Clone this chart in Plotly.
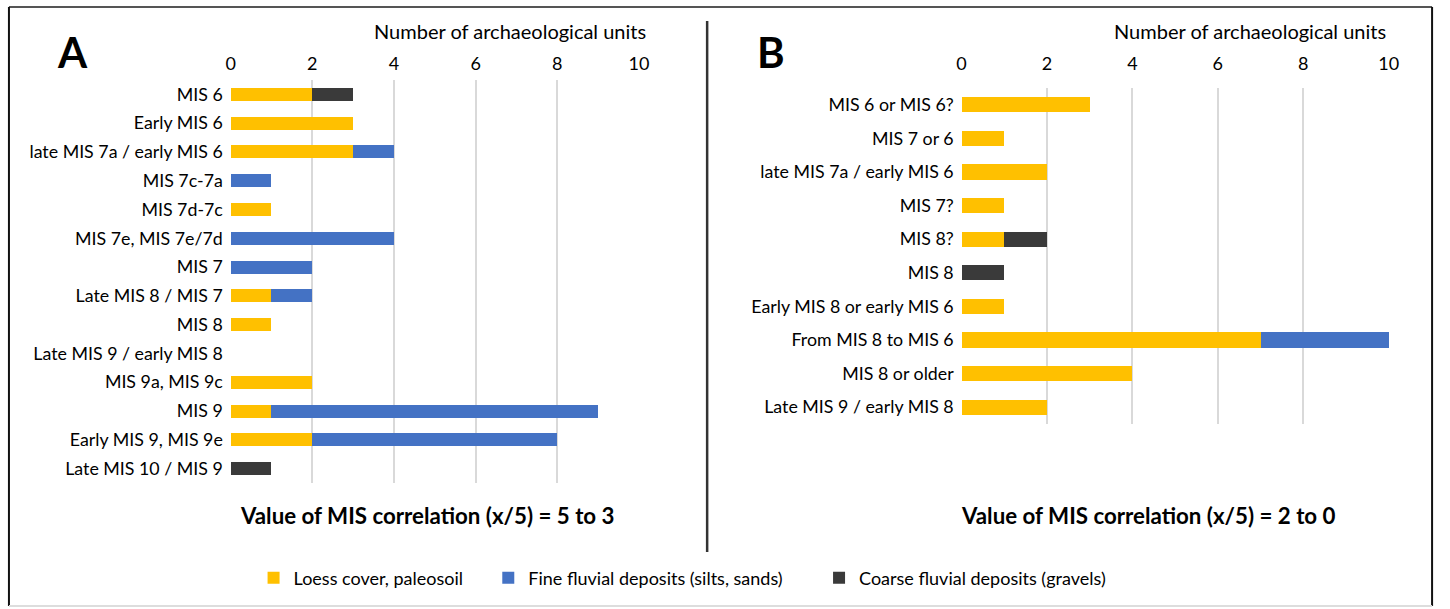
import plotly.graph_objects as go

# ---------------- data ----------------
cats_a = ["MIS 6", "Early MIS 6", "late MIS 7a / early MIS 6", "MIS 7c-7a", "MIS 7d-7c",
          "MIS 7e, MIS 7e/7d", "MIS 7", "Late MIS 8 / MIS 7", "MIS 8",
          "Late MIS 9 / early MIS 8", "MIS 9a, MIS 9c", "MIS 9", "Early MIS 9, MIS 9e",
          "Late MIS 10 / MIS 9"]
loess_a = [2, 3, 3, 0, 1, 0, 0, 1, 1, 0, 2, 1, 2, 0]
fine_a = [0, 0, 1, 1, 0, 4, 2, 1, 0, 0, 0, 8, 6, 0]
coarse_a = [1, 0, 0, 0, 0, 0, 0, 0, 0, 0, 0, 0, 0, 1]

cats_b = ["MIS 6 or MIS 6?", "MIS 7 or 6", "late MIS 7a / early MIS 6", "MIS 7?", "MIS 8?",
          "MIS 8", "Early MIS 8 or early MIS 6", "From MIS 8 to MIS 6", "MIS 8 or older",
          "Late MIS 9 / early MIS 8"]
loess_b = [3, 1, 2, 1, 1, 0, 1, 7, 4, 2]
fine_b = [0, 0, 0, 0, 0, 0, 0, 3, 0, 0]
coarse_b = [0, 0, 0, 0, 1, 1, 0, 0, 0, 0]

series_names = ["Loess cover, paleosoil", "Fine fluvial deposits (silts, sands)",
                "Coarse fluvial deposits (gravels)"]
colors = ["#FFC000", "#4472C4", "#3A3A3A"]
x_ticks = [0, 2, 4, 6, 8, 10]

FONT = "Lato"
W, H = 1450, 609

fig = go.Figure()
legends = ["legend", "legend2", "legend3"]
for i, (name, col) in enumerate(zip(series_names, colors)):
    va = [loess_a, fine_a, coarse_a][i]
    vb = [loess_b, fine_b, coarse_b][i]
    fig.add_trace(go.Bar(y=cats_a, x=va, orientation="h", name=name, marker_color=col,
                         marker_line_width=0, width=0.45, xaxis="x", yaxis="y",
                         legend=legends[i], showlegend=True))
    fig.add_trace(go.Bar(y=cats_b, x=vb, orientation="h", name=name, marker_color=col,
                         marker_line_width=0, width=0.45, xaxis="x2", yaxis="y2",
                         showlegend=False))

def px_x(p):
    return p / W

def px_y(p):
    return 1 - p / H

xcommon = dict(range=[-0.02, 10.02], side="top", tickvals=x_ticks, showgrid=True,
               gridcolor="#D9D9D9", gridwidth=1.5, zeroline=False, showline=False,
               ticks="", tickfont=dict(size=18, color="#000", family=FONT), fixedrange=True)
ycommon = dict(autorange="reversed", showgrid=False, zeroline=False, showline=False, ticks="",
               tickfont=dict(size=17.8, color="#000", family=FONT), ticklabelstandoff=6,
               fixedrange=True)

fig.update_layout(
    width=W, height=H, margin=dict(l=0, r=0, t=0, b=0),
    paper_bgcolor="white", plot_bgcolor="white", barmode="stack",
    font=dict(family=FONT, color="#000"),
    xaxis=dict(domain=[px_x(228), px_x(642)], anchor="y", ticklabelstandoff=5, **xcommon),
    yaxis=dict(domain=[px_y(483), px_y(80)], anchor="x", **ycommon),
    xaxis2=dict(domain=[px_x(966), px_x(1399)], anchor="y2", ticklabelstandoff=13, **xcommon),
    yaxis2=dict(domain=[px_y(424), px_y(88)], anchor="x2", **ycommon),
)

leg_common = dict(orientation="h", yanchor="middle", y=px_y(578), xanchor="left",
                  bgcolor="rgba(0,0,0,0)", font=dict(size=18, family=FONT, color="#000"),
                  itemwidth=30)
fig.update_layout(
    legend=dict(x=px_x(252), **leg_common),
    legend2=dict(x=px_x(489), **leg_common),
    legend3=dict(x=px_x(823), **leg_common),
)

ann = []
ann.append(dict(text="Number of archaeological units", x=px_x(511), y=px_y(31),
                font=dict(size=20)))
ann.append(dict(text="Number of archaeological units", x=px_x(1258), y=px_y(31),
                font=dict(size=20)))
ann.append(dict(text="<b>A</b>", x=px_x(69), y=px_y(52), font=dict(size=42)))
ann.append(dict(text="<b>B</b>", x=px_x(774), y=px_y(52), font=dict(size=42)))
ann.append(dict(text="<b>Value of MIS correlation (x/5) = 5 to 3</b>", x=px_x(428),
                y=px_y(515), font=dict(size=22.3)))
ann.append(dict(text="<b>Value of MIS correlation (x/5) = 2 to 0</b>", x=px_x(1156),
                y=px_y(515), font=dict(size=22.3)))
for a in ann:
    a.update(xref="paper", yref="paper", showarrow=False, xanchor="center",
             yanchor="middle")
    a["font"].update(family=FONT, color="#000")
fig.update_layout(annotations=ann)

shapes = [
    # outer frame
    dict(type="line", x0=px_x(5), x1=px_x(1442), y0=px_y(7), y1=px_y(7),
         line=dict(color="#555555", width=2)),
    dict(type="line", x0=px_x(5), x1=px_x(5), y0=px_y(7), y1=px_y(606),
         line=dict(color="#111111", width=2)),
    dict(type="line", x0=px_x(1442), x1=px_x(1442), y0=px_y(7), y1=px_y(606),
         line=dict(color="#111111", width=2)),
    dict(type="line", x0=px_x(5), x1=px_x(1442), y0=px_y(606), y1=px_y(606),
         line=dict(color="#DDDDDD", width=2)),
    # divider
    dict(type="line", x0=px_x(710), x1=px_x(710), y0=px_y(21), y1=px_y(552),
         line=dict(color="#333333", width=2.5)),
]
for s in shapes:
    s.update(xref="paper", yref="paper", layer="above")
fig.update_layout(shapes=shapes)

fig.write_html("out.html", config={"displayModeBar": False},
               post_script="document.body.style.margin='0';")
